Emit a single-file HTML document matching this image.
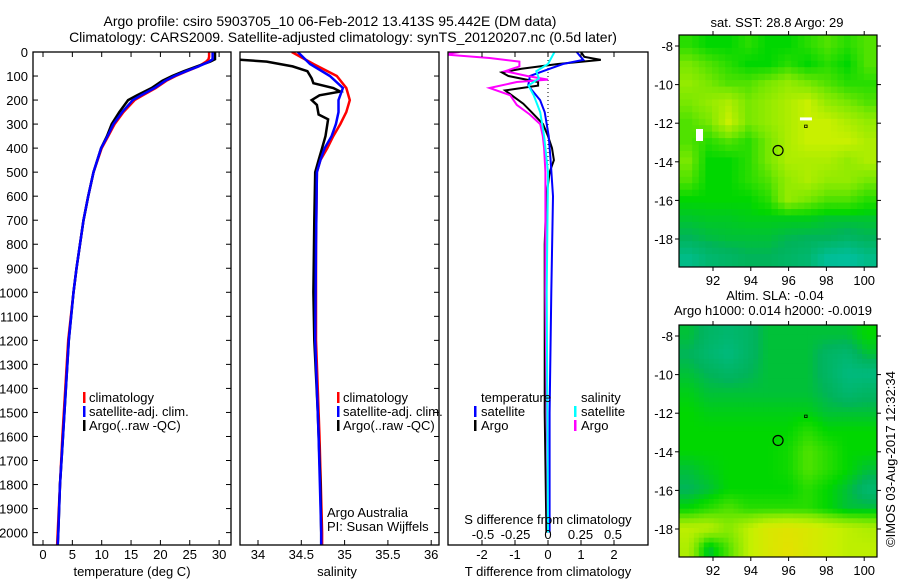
<!DOCTYPE html>
<html><head><meta charset="utf-8">
<style>
html,body{margin:0;padding:0;background:#fff;}
svg{display:block;font-family:"Liberation Sans",sans-serif;}
text{font-size:13px;fill:#000;}
</style></head>
<body>
<svg id="fig" width="900" height="580" viewBox="0 0 900 580" xmlns="http://www.w3.org/2000/svg">
<text x="330" y="26" text-anchor="middle" style="font-size:14px">Argo profile: csiro 5903705_10 06-Feb-2012 13.413S 95.442E (DM data)</text>
<text x="343" y="42" text-anchor="middle" style="font-size:14px">Climatology: CARS2009. Satellite-adjusted climatology: synTS_20120207.nc (0.5d later)</text>
<g id="g"></g>
</svg>
<script>
// ---------- data ----------
const depthTicks=[0,100,200,300,400,500,600,700,800,900,1000,1100,1200,1300,1400,1500,1600,1700,1800,1900,2000];
const tempTicks=[0,5,10,15,20,25,30];
const salTicks=[34,34.5,35,35.5,36];
const salTickLabels=["34","34.5","35","35.5","36"];
const tdTicks=[-2,-1,0,1,2];
const sdTicks=[-0.5,-0.25,0,0.25,0.5];
const sdTickLabels=["-0.5","-0.25","0","0.25","0.5"];

const tDepth=[0,20,30,40,60,80,100,120,150,180,200,250,300,350,400,500,600,700,800,900,1000,1200,1400,1600,1800,2000,2055];
const tArgo=[29.3,29.3,29.3,28.5,26.2,24,22,20.3,18.5,16,14.5,13,11.7,10.9,9.9,8.6,7.7,6.9,6.3,5.7,5.2,4.4,3.9,3.4,2.9,2.6,2.5];
const tClim=[28.3,28.3,28.2,27.8,26.5,24.5,22.6,21,19.2,17,15.6,13.7,12.2,11.1,10,8.6,7.7,6.9,6.3,5.7,5.2,4.3,3.8,3.3,2.9,2.5,2.4];
const tSat=[28.9,28.9,28.9,28.3,26.5,24.4,22.4,20.8,19,16.7,15.3,13.5,12,11,9.9,8.6,7.7,6.9,6.3,5.7,5.2,4.4,3.9,3.4,2.9,2.6,2.5];

const sDepth=[0,25,30,40,60,80,110,130,150,165,180,200,220,260,280,350,400,450,500,700,1000,1200,1500,1800,2000,2055];
const sArgo=[33.5,33.5,33.7,34.1,34.4,34.57,34.62,34.64,34.87,34.95,34.71,34.62,34.68,34.7,34.81,34.78,34.74,34.7,34.66,34.65,34.64,34.65,34.69,34.72,34.73,34.73];
const sClimD=[0,50,100,150,200,250,300,350,400,450,500,800,1200,1600,2000,2055];
const sClim=[34.39,34.64,34.91,35.02,35.06,35.02,34.95,34.87,34.8,34.72,34.68,34.67,34.67,34.71,34.74,34.74];
const sSat=[34.46,34.6,34.83,34.98,34.93,34.93,34.9,34.85,34.77,34.72,34.68,34.67,34.66,34.7,34.73,34.73];

const dtDepthA=[0,20,33,50,70,85,100,125,140,160,190,215,250,300,350,400,450,500,600,800,1000,1500,2000];
const dtArgo=[1.0,1.1,1.6,0.3,-0.8,-1.4,-1.2,-0.3,-0.3,-1.3,-1.0,-0.75,-0.5,-0.15,0,0.12,0.18,0.05,-0.05,-0.1,-0.1,-0.1,-0.05];
const dtDepthS=[0,33,50,80,100,140,200,250,350,450,600,1000,1500,2000];
const dtSat=[0.87,1.07,0.45,-0.15,-0.55,-0.6,-0.24,-0.1,0.02,0.08,0.15,0.1,0.05,0.05];
const dsDepthA=[0,10,25,40,60,80,100,115,125,150,180,220,260,300,350,400,500,1000,1500,2000];
const dsArgo=[-0.68,-0.8,-0.45,-0.22,-0.22,-0.33,-0.16,0,-0.24,-0.45,-0.29,-0.24,-0.14,-0.06,-0.04,-0.03,-0.02,-0.02,-0.01,0];
const dsDepthS=[0,50,80,110,140,180,250,350,500,1000,2000];
const dsSat=[0.05,0,-0.09,-0.07,-0.15,-0.11,-0.06,-0.03,0,-0.01,0];

const lonTicks=[92,94,96,98,100];
const latTicks=[-8,-10,-12,-14,-16,-18];
const sstGrid=[
[0.55,0.5,0.5,0.55,0.5,0.5,0.55,0.6,0.55,0.6],
[0.65,0.6,0.55,0.5,0.5,0.55,0.5,0.55,0.5,0.6],
[0.7,0.65,0.6,0.6,0.65,0.7,0.65,0.6,0.55,0.55],
[0.65,0.7,0.75,0.65,0.7,0.75,0.8,0.7,0.65,0.6],
[0.6,0.65,0.8,0.65,0.7,0.75,0.8,0.8,0.75,0.7],
[0.6,0.55,0.6,0.55,0.65,0.75,0.8,0.8,0.8,0.75],
[0.65,0.5,0.5,0.55,0.65,0.75,0.75,0.75,0.7,0.75],
[0.6,0.5,0.5,0.55,0.6,0.7,0.75,0.7,0.7,0.65],
[0.5,0.5,0.5,0.5,0.55,0.7,0.65,0.6,0.6,0.55],
[0.46,0.47,0.47,0.48,0.48,0.48,0.48,0.46,0.46,0.46],
[0.42,0.44,0.45,0.45,0.45,0.43,0.42,0.42,0.4,0.42],
[0.33,0.38,0.4,0.42,0.42,0.4,0.38,0.3,0.28,0.33]];
const slaGrid=[
[0.45,0.4,0.38,0.4,0.45,0.45,0.45,0.45,0.45,0.5],
[0.42,0.38,0.35,0.4,0.45,0.45,0.45,0.4,0.38,0.45],
[0.45,0.42,0.4,0.42,0.45,0.45,0.45,0.4,0.35,0.35],
[0.48,0.45,0.45,0.45,0.45,0.45,0.45,0.42,0.38,0.4],
[0.5,0.48,0.48,0.48,0.48,0.48,0.48,0.45,0.45,0.45],
[0.5,0.5,0.5,0.5,0.5,0.5,0.55,0.5,0.5,0.5],
[0.5,0.5,0.5,0.5,0.5,0.52,0.6,0.55,0.5,0.5],
[0.45,0.48,0.5,0.5,0.5,0.52,0.6,0.55,0.5,0.45],
[0.42,0.45,0.5,0.5,0.5,0.5,0.55,0.5,0.45,0.38],
[0.5,0.55,0.6,0.55,0.55,0.55,0.55,0.5,0.45,0.45],
[0.78,0.78,0.68,0.78,0.87,0.9,0.87,0.82,0.78,0.75],
[0.75,0.45,0.6,0.78,0.87,0.92,0.87,0.82,0.78,0.78]];
const argoLon=95.442, argoLat=-13.413;

// ---------- helpers ----------
const NS="http://www.w3.org/2000/svg";
const G=document.getElementById('g');
function mk(tag,at,parent){const e=document.createElementNS(NS,tag);for(const k in at)e.setAttribute(k,at[k]);(parent||G).appendChild(e);return e;}
function txt(x,y,s,anchor,parent){const t=mk('text',{x:x,y:y,'text-anchor':anchor||'start'},parent);t.textContent=s;return t;}
const yD=d=>52+d*0.2403;
const xT=v=>43+v*5.87;
const xS=v=>258+(v-34)*86.6;
const xDT=v=>548+v*33;
const xDS=v=>548+v*130;

function frame(x0,x1,name){
  const r=mk('rect',{x:x0,y:52,width:x1-x0,height:493,fill:'none',stroke:'#000','stroke-width':1.3});
  
  
}
const defs=mk('defs',{});
[['c1',33,231],['c2',240,439],['c3',448,648]].forEach(c=>{const cp=mk('clipPath',{id:c[0]},defs);mk('rect',{x:c[1],y:52,width:c[2]-c[1],height:493},cp);});

function lineIn(parent,xs,ds,fx,color,name,w){const pts=xs.map((v,i)=>fx(v).toFixed(1)+','+yD(ds[i]).toFixed(1)).join(' ');
  const p=mk('polyline',{points:pts,fill:'none',stroke:color,'stroke-width':w||2.5},parent);
  
  }
function legend(x,y,items,name){const g=mk('g',{});
  items.forEach((it,i)=>{mk('rect',{x:x,y:y+i*14-10,width:2.5,height:11,fill:it[1]},g);txt(x+6,y+i*14,it[0],'start',g);});}

// ---------- panel 1 ----------
const p1=mk('g',{'clip-path':'url(#c1)'});
frame(33,231,'temperature-panel-frame');
depthTicks.forEach(d=>{const y=yD(d);mk('line',{x1:33,x2:38,y1:y,y2:y,stroke:'#000'});mk('line',{x1:226,x2:231,y1:y,y2:y,stroke:'#000'});
  const t=txt(28,y+5,String(d),'end');});
tempTicks.forEach(v=>{const x=xT(v);mk('line',{x1:x,x2:x,y1:540,y2:545,stroke:'#000'});mk('line',{x1:x,x2:x,y1:52,y2:57,stroke:'#000'});
  const t=txt(x,559,String(v),'middle');});
{const t=txt(132,576,'temperature (deg C)','middle');}
lineIn(p1,tClim,tDepth,xT,'#f00','temperature-climatology-line');
lineIn(p1,tArgo,tDepth,xT,'#000','temperature-argo-line');
lineIn(p1,tSat,tDepth,xT,'#00f','temperature-satellite-line');
legend(83,402,[['climatology','#f00'],['satellite-adj. clim.','#00f'],['Argo(..raw -QC)','#000']],'temperature-legend');

// ---------- panel 2 ----------
const p2=mk('g',{'clip-path':'url(#c2)'});
frame(240,439,'salinity-panel-frame');
depthTicks.forEach(d=>{const y=yD(d);mk('line',{x1:434,x2:439,y1:y,y2:y,stroke:'#000'});});
salTicks.forEach((v,i)=>{const x=xS(v);mk('line',{x1:x,x2:x,y1:540,y2:545,stroke:'#000'});
  const t=txt(x,559,salTickLabels[i],'middle');});
{const t=txt(337,576,'salinity','middle');}
lineIn(p2,sClim,sClimD,xS,'#f00','salinity-climatology-line');
lineIn(p2,sArgo,sDepth,xS,'#000','salinity-argo-line');
lineIn(p2,sSat,sClimD,xS,'#00f','salinity-satellite-line');
legend(337,402,[['climatology','#f00'],['satellite-adj. clim.','#00f'],['Argo(..raw -QC)','#000']],'salinity-legend');
{const t=txt(327,517,'Argo Australia');
 const t2=txt(327,531,'PI: Susan Wijffels');}

// ---------- panel 3 ----------
const p3=mk('g',{'clip-path':'url(#c3)'});
frame(448,648,'difference-panel-frame');
tdTicks.forEach(v=>{const x=xDT(v);mk('line',{x1:x,x2:x,y1:540,y2:545,stroke:'#000'});mk('line',{x1:x,x2:x,y1:52,y2:57,stroke:'#000'});
  const t=txt(x,559,String(v),'middle');});
sdTicks.forEach((v,i)=>{const t=txt(xDS(v),539,sdTickLabels[i],'middle');});
{const t=txt(548,524,'S difference from climatology','middle');
 const t2=txt(548,576,'T difference from climatology','middle');}
mk('line',{x1:548,x2:548,y1:52,y2:180,stroke:'#000','stroke-dasharray':'1,3'},p3);
lineIn(p3,dtArgo,dtDepthA,xDT,'#000','t-diff-argo-line',2);
lineIn(p3,dtSat,dtDepthS,xDT,'#00f','t-diff-satellite-line',2);
lineIn(p3,dsArgo,dsDepthA,xDS,'#f0f','s-diff-argo-line',2);
lineIn(p3,dsSat,dsDepthS,xDS,'#0ff','s-diff-satellite-line',2);
{const g=mk('g',{});
 txt(481,402,'temperature','start',g);txt(581,402,'salinity','start',g);
 [['satellite','#00f',474,416],['Argo','#000',474,430],['satellite','#0ff',574,416],['Argo','#f0f',574,430]].forEach(it=>{
  mk('rect',{x:it[2],y:it[3]-10,width:2.5,height:11,fill:it[1]},g);txt(it[2]+7,it[3],it[0],'start',g);});}

// ---------- maps ----------
function col(v){
  const stops=[[0,[0,210,210]],[0.3,[0,190,150]],[0.42,[0,180,90]],[0.5,[0,215,0]],[0.65,[120,232,0]],[0.8,[200,240,0]],[1,[245,215,0]]];
  v=Math.max(0,Math.min(1,v));
  for(let i=1;i<stops.length;i++){if(v<=stops[i][0]){const a=stops[i-1],b=stops[i],t=(v-a[0])/(b[0]-a[0]);
    return 'rgb('+a[1].map((c,k)=>Math.round(c+(b[1][k]-c)*t)).join(',')+')';}}
  return 'rgb(245,215,0)';
}
function sample(grid,fr,fc){
  const R=grid.length,C=grid[0].length;
  const r=Math.max(0,Math.min(R-1,fr-0.5)),c=Math.max(0,Math.min(C-1,fc-0.5));
  const r0=Math.floor(r),c0=Math.floor(c),r1=Math.min(R-1,r0+1),c1=Math.min(C-1,c0+1),tr=r-r0,tc=c-c0;
  return grid[r0][c0]*(1-tr)*(1-tc)+grid[r0][c1]*(1-tr)*tc+grid[r1][c0]*tr*(1-tc)+grid[r1][c1]*tr*tc;
}
function map(y0,grid,name,sub){
  const x0=679,x1=877,y1=y0+232;
  const xL=lon=>713+(lon-92)*18.9;
  const yL=lat=>y0+11+(-8-lat)*19.3;
  const g=mk('g',{});
  const R=grid.length*sub,C=grid[0].length*sub,cw=(x1-x0)/C,ch=(y1-y0)/R;
  for(let r=0;r<R;r++)for(let c=0;c<C;c++){
    const v=sample(grid,(r+0.5)/sub,(c+0.5)/sub);
    const cell=mk('rect',{x:(x0+c*cw).toFixed(1),y:(y0+r*ch).toFixed(1),width:(cw+0.5).toFixed(1),height:(ch+0.5).toFixed(1),fill:col(v)},g);
    
    
  }
  mk('rect',{x:x0,y:y0,width:x1-x0,height:y1-y0,fill:'none',stroke:'#000','stroke-width':1.2},g);
  lonTicks.forEach(l=>{const x=xL(l);mk('line',{x1:x,x2:x,y1:y0-4,y2:y0,stroke:'#000'},g);mk('line',{x1:x,x2:x,y1:y1,y2:y1+4,stroke:'#000'},g);txt(x,y1+18,String(l),'middle',g);});
  latTicks.forEach(l=>{const y=yL(l);mk('line',{x1:x0-4,x2:x0,y1:y,y2:y,stroke:'#000'},g);mk('line',{x1:x1,x2:x1+4,y1:y,y2:y,stroke:'#000'},g);txt(x0-6,y+5,String(l),'end',g);});
  const m=mk('circle',{cx:xL(argoLon),cy:yL(argoLat),r:5,fill:'none',stroke:'#000','stroke-width':1.2},g);
  
  
  mk('rect',{x:xL(96.9)-1,y:yL(-12.15)-1,width:2.5,height:2.5,fill:'none',stroke:'#000','stroke-width':0.8},g);
  return {xL,yL,g};
}
const m1=map(35,sstGrid,'sst-map',3);
mk('rect',{x:m1.xL(91.1),y:m1.yL(-12.3),width:7,height:12,fill:'#fff'},m1.g);
mk('rect',{x:m1.xL(96.6),y:m1.yL(-11.7),width:12,height:3,fill:'#fff'},m1.g);
{const t=txt(777,27,'sat. SST: 28.8 Argo: 29','middle');}
map(325,slaGrid,'sla-map',4);
{const t=txt(775,300,'Altim. SLA: -0.04','middle');
 const t2=txt(773,315,'Argo h1000: 0.014 h2000: -0.0019','middle');
 const t3=txt(0,0,'©IMOS 03-Aug-2017 12:32:34','start');t3.setAttribute('transform','translate(895,547) rotate(-90)');
 }
</script>
</body></html>
